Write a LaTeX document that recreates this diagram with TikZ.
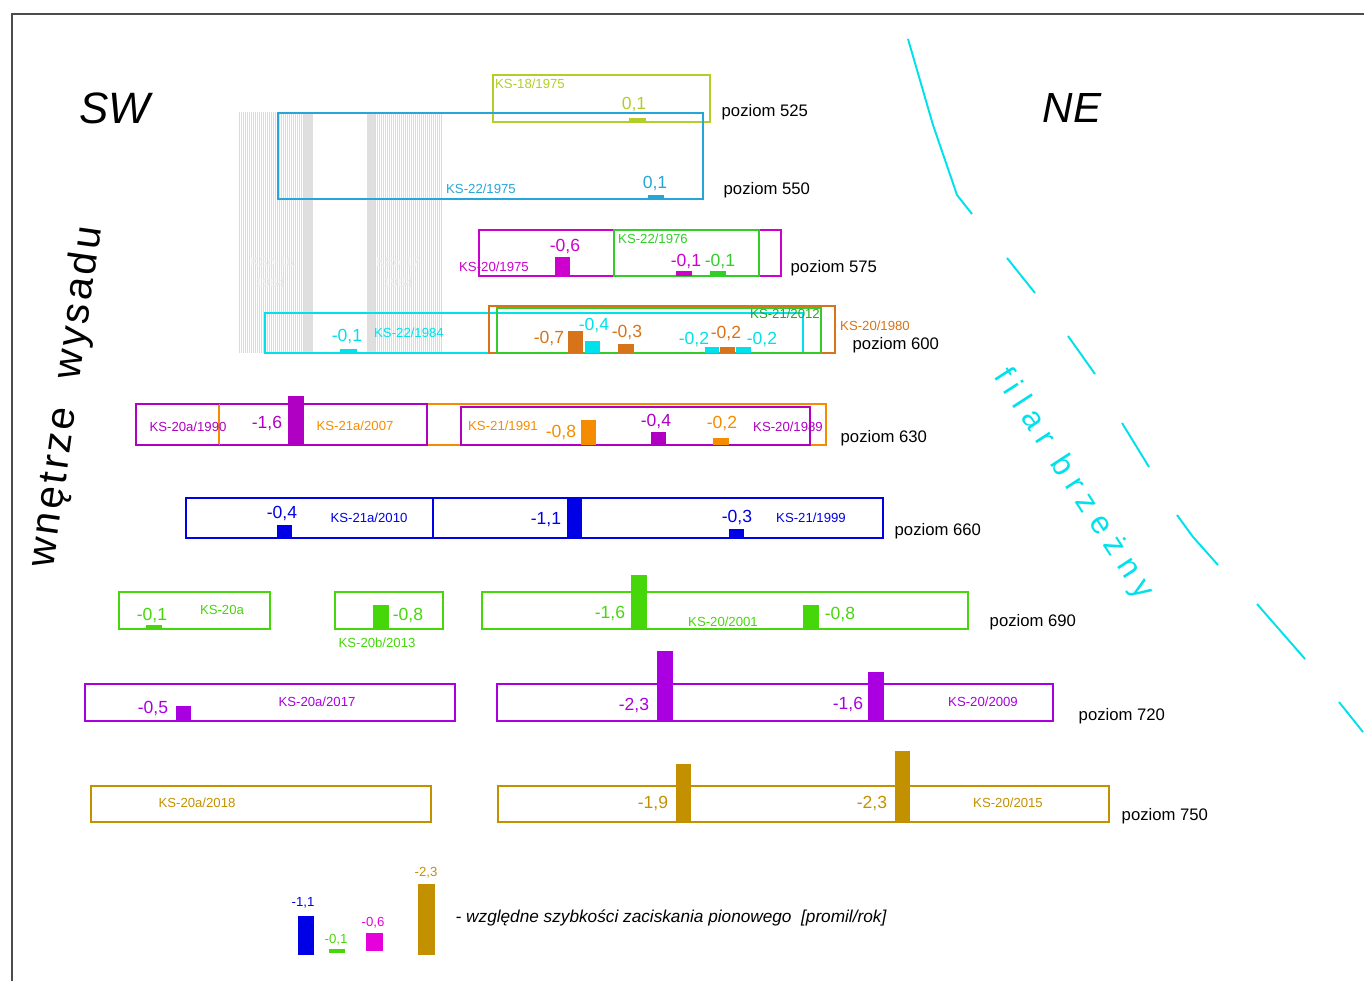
\documentclass[tikz,border=0pt]{standalone}
\usepackage{fontspec}
\setmainfont{Liberation Sans}
\newfontfamily\rozstaw[LetterSpace=8]{Liberation Sans}
\newfontfamily\rozstawszer[LetterSpace=28]{Liberation Sans}
\definecolor{zolto}{RGB}{180,205,40}
\definecolor{niebo}{RGB}{40,165,215}
\definecolor{fiolet}{RGB}{205,0,205}
\definecolor{zielen}{RGB}{50,205,40}
\definecolor{cyjan}{RGB}{0,225,235}
\definecolor{brazowy}{RGB}{215,115,25}
\definecolor{purpura}{RGB}{175,0,195}
\definecolor{pomarancz}{RGB}{245,140,0}
\definecolor{granat}{RGB}{0,0,230}
\definecolor{trawa}{RGB}{70,215,10}
\definecolor{liliowy}{RGB}{170,0,225}
\definecolor{zloto}{RGB}{195,145,0}
\definecolor{roz}{RGB}{230,0,220}
\begin{document}
\begin{tikzpicture}[x=0.02cm, y=-0.02cm, line width=0.8pt,
	lab/.style={font=\fontsize{7.5}{8}\selectfont, inner sep=0pt},
	val/.style={font=\fontsize{10}{11}\selectfont, inner sep=0pt},
	poz/.style={font=\fontsize{9.5}{11}\selectfont, inner sep=0pt, anchor=west}]
	\useasboundingbox (0,0) rectangle (1364,981);
	% ramka
	\draw[black!70, line width=0.6pt] (12,981) -- (12,14) -- (1364,14);
	\node[font=\fontsize{25}{26}\selectfont\itshape] (sw) at (115,108) {SW};
	\node[font=\fontsize{24}{26}\selectfont\itshape] (ne) at (1072,108) {NE};
	\node[rotate=82, font=\rozstaw\fontsize{23}{24}\selectfont] (wnetrze) at (67,397) {wnętrze\ \ wysadu};
	\node[rotate=-57, text=cyjan, font=\rozstawszer\fontsize{18}{19}\selectfont] (filar) at (1073,484) {filar\ brzeżny};
	% granica filara
	\draw[cyjan, line width=1.1pt] (908,39) -- (933,125) -- (957,195) -- (972,214);
	\draw[cyjan, line width=1.1pt] (1007,258) -- (1035,293);
	\draw[cyjan, line width=1.1pt] (1068,336) -- (1095,374);
	\draw[cyjan, line width=1.1pt] (1122,423) -- (1149,467);
	\draw[cyjan, line width=1.1pt] (1177,515) -- (1193,537) -- (1218,565);
	\draw[cyjan, line width=1.1pt] (1257,604) -- (1305,659);
	\draw[cyjan, line width=1.1pt] (1339,702) -- (1363,732);
	% kolumny szare
	\foreach \x in {239,241,...,311} \draw[gray!28, line width=0.45pt] (\x,112) -- (\x,353);
	\foreach \x in {367,369,...,441} \draw[gray!28, line width=0.45pt] (\x,112) -- (\x,353);
	\fill[gray!25] (304,112) rectangle (313,353);
	\fill[gray!25] (367,112) rectangle (375,353);
	\node[lab, text=gray!14] (ks16) at (272,262) {KSo-16};
	\node[lab, text=gray!14] (r16) at (270,283) {1984};
	\node[lab, text=gray!14] (ks17) at (398,262) {KSo-17};
	\node[lab, text=gray!14] (r17) at (398,283) {1984};
	% poziom 525
	\draw[zolto] (493,75) rectangle (710,122);
	\fill[zolto] (629,118) rectangle (646,122);
	\node[lab, text=zolto] (k525) at (530,84) {KS-18/1975};
	\node[val, text=zolto] (v525) at (634,104) {0,1};
	\node[poz] (p525) at (721,112) {poziom 525};
	% poziom 550
	\draw[niebo] (278,113) rectangle (703,199);
	\fill[niebo] (648,195) rectangle (664,199);
	\node[lab, text=niebo] (k550) at (481,189) {KS-22/1975};
	\node[val, text=niebo] (v550) at (655,183) {0,1};
	\node[poz] (p550) at (723,190) {poziom 550};
	% poziom 575
	\draw[fiolet] (479,230) rectangle (781,276);
	\draw[zielen, line width=1.1pt] (614,230) rectangle (759,276);
	\fill[fiolet] (555,257) rectangle (570,276);
	\fill[fiolet] (676,271) rectangle (692,276);
	\fill[zielen] (710,271) rectangle (726,276);
	\node[lab, text=fiolet] (k575a) at (494,267) {KS-20/1975};
	\node[lab, text=zielen] (k575b) at (653,239) {KS-22/1976};
	\node[val, text=fiolet] (v575a) at (565,246) {-0,6};
	\node[val, text=fiolet] (v575b) at (686,261) {-0,1};
	\node[val, text=zielen] (v575c) at (720,261) {-0,1};
	\node[poz] (p575) at (790,268) {poziom 575};
	% poziom 600
	\draw[cyjan] (265,313) rectangle (803,353);
	\draw[brazowy] (489,306) rectangle (835,353);
	\draw[zielen] (497,308) rectangle (821,353);
	\fill[cyjan] (340,349) rectangle (357,353);
	\fill[brazowy] (568,331) rectangle (583,353);
	\fill[cyjan] (585,341) rectangle (600,353);
	\fill[brazowy] (618,344) rectangle (634,353);
	\fill[cyjan] (705,347) rectangle (719,353);
	\fill[brazowy] (720,347) rectangle (735,353);
	\fill[cyjan] (736,347) rectangle (751,353);
	\node[val, text=cyjan] (v600a) at (347,336) {-0,1};
	\node[lab, text=cyjan] (k600a) at (409,333) {KS-22/1984};
	\node[val, text=brazowy] (v600b) at (549,338) {-0,7};
	\node[val, text=cyjan] (v600c) at (594,325) {-0,4};
	\node[val, text=brazowy] (v600d) at (627,332) {-0,3};
	\node[val, text=cyjan] (v600e) at (694,339) {-0,2};
	\node[val, text=brazowy] (v600f) at (726,333) {-0,2};
	\node[val, text=cyjan] (v600g) at (762,339) {-0,2};
	\node[lab, text=zielen!80!black] (k600b) at (785,314) {KS-21/2012};
	\node[lab, text=brazowy] (k600c) at (875,326) {KS-20/1980};
	\node[poz] (p600) at (852,345) {poziom 600};
	% poziom 630
	\draw[pomarancz] (219,404) rectangle (826,445);
	\draw[purpura] (136,404) rectangle (427,445);
	\draw[purpura] (461,407) rectangle (810,445);
	\draw[pomarancz, line width=0.5pt] (219,404) -- (219,445);
	\fill[purpura] (288,396) rectangle (304,445);
	\fill[pomarancz] (581,420) rectangle (596,445);
	\fill[purpura] (651,432) rectangle (666,445);
	\fill[pomarancz] (713,438) rectangle (729,445);
	\node[lab, text=purpura] (k630a) at (188,427) {KS-20a/1990};
	\node[val, text=purpura] (v630a) at (267,423) {-1,6};
	\node[lab, text=pomarancz] (k630b) at (355,426) {KS-21a/2007};
	\node[lab, text=pomarancz] (k630c) at (503,426) {KS-21/1991};
	\node[val, text=pomarancz] (v630b) at (561,432) {-0,8};
	\node[val, text=purpura] (v630c) at (656,421) {-0,4};
	\node[val, text=pomarancz] (v630d) at (722,423) {-0,2};
	\node[lab, text=purpura] (k630d) at (788,427) {KS-20/1989};
	\node[poz] (p630) at (840,438) {poziom 630};
	% poziom 660
	\draw[granat] (186,498) rectangle (883,538);
	\draw[granat] (433,498) -- (433,538);
	\fill[granat] (277,525) rectangle (292,538);
	\fill[granat] (567,497) rectangle (582,538);
	\fill[granat] (729,529) rectangle (744,538);
	\node[val, text=granat] (v660a) at (282,513) {-0,4};
	\node[lab, text=granat] (k660a) at (369,518) {KS-21a/2010};
	\node[val, text=granat] (v660b) at (546,520) {-1,1};
	\node[val, text=granat] (v660c) at (737,517) {-0,3};
	\node[lab, text=granat] (k660b) at (811,518) {KS-21/1999};
	\node[poz] (p660) at (894,531) {poziom 660};
	% poziom 690
	\draw[trawa] (119,592) rectangle (270,629);
	\draw[trawa] (335,592) rectangle (443,629);
	\draw[trawa] (482,592) rectangle (968,629);
	\fill[trawa] (146,625) rectangle (162,629);
	\fill[trawa] (373,605) rectangle (389,629);
	\fill[trawa] (631,575) rectangle (647,629);
	\fill[trawa] (803,605) rectangle (819,629);
	\node[val, text=trawa] (v690a) at (152,615) {-0,1};
	\node[lab, text=trawa] (k690a) at (222,610) {KS-20a};
	\node[val, text=trawa] (v690b) at (408,615) {-0,8};
	\node[lab, text=trawa] (k690b) at (377,643) {KS-20b/2013};
	\node[val, text=trawa] (v690c) at (610,613) {-1,6};
	\node[lab, text=trawa] (k690c) at (723,622) {KS-20/2001};
	\node[val, text=trawa] (v690d) at (840,614) {-0,8};
	\node[poz] (p690) at (989,622) {poziom 690};
	% poziom 720
	\draw[liliowy] (85,684) rectangle (455,721);
	\draw[liliowy] (497,684) rectangle (1053,721);
	\fill[liliowy] (176,706) rectangle (191,721);
	\fill[liliowy] (657,651) rectangle (673,721);
	\fill[liliowy] (868,672) rectangle (884,721);
	\node[val, text=liliowy] (v720a) at (153,708) {-0,5};
	\node[lab, text=liliowy] (k720a) at (317,702) {KS-20a/2017};
	\node[val, text=liliowy] (v720b) at (634,705) {-2,3};
	\node[val, text=liliowy] (v720c) at (848,704) {-1,6};
	\node[lab, text=liliowy] (k720b) at (983,702) {KS-20/2009};
	\node[poz] (p720) at (1078,716) {poziom 720};
	% poziom 750
	\draw[zloto] (91,786) rectangle (431,822);
	\draw[zloto] (498,786) rectangle (1109,822);
	\fill[zloto] (676,764) rectangle (691,822);
	\fill[zloto] (895,751) rectangle (910,822);
	\node[lab, text=zloto] (k750a) at (197,803) {KS-20a/2018};
	\node[val, text=zloto] (v750a) at (653,803) {-1,9};
	\node[val, text=zloto] (v750b) at (872,803) {-2,3};
	\node[lab, text=zloto] (k750b) at (1008,803) {KS-20/2015};
	\node[poz] (p750) at (1121,816) {poziom 750};
	% legenda
	\fill[granat] (298,916) rectangle (314,955);
	\fill[trawa] (329,949) rectangle (345,953);
	\fill[roz] (366,933) rectangle (383,951);
	\fill[zloto] (418,884) rectangle (435,955);
	\node[lab, text=granat] (l1) at (303,903) {-1,1};
	\node[lab, text=trawa] (l2) at (336,940) {-0,1};
	\node[lab, text=roz] (l3) at (373,923) {-0,6};
	\node[lab, text=zloto] (l4) at (426,873) {-2,3};
	\node[anchor=west, inner sep=0pt, font=\fontsize{9.8}{12}\selectfont\itshape] (opis) at (455,918) {- względne szybkości zaciskania pionowego\ \ [promil/rok]};
\end{tikzpicture}
\end{document}
